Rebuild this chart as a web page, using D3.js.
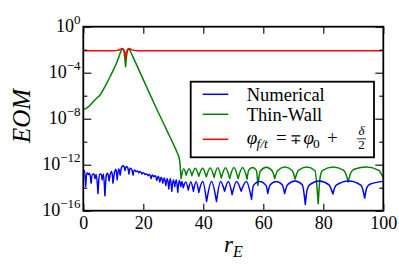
<!DOCTYPE html>
<html><head><meta charset="utf-8">
<script src="https://cdn.jsdelivr.net/npm/d3@7"></script>
<style>body{margin:0;background:#fff}svg{display:block}</style>
</head><body>
<svg id="c" width="399" height="268"></svg>
<script>
// ---- data (r_E, log10 EOM) ----
const xTickValues = [0, 20, 40, 60, 80, 100];
const yMajorExp = [0, -4, -8, -12, -16];
const yMinorExp = [-2, -6, -10, -14];
const legendNames = ["Numerical", "Thin-Wall", "phi"];

const numericalR = [0,0.4,0.8,1.2,1.7,2.1,2.6,3.0,3.5,3.9,4.3,4.9,5.4,5.9,6.3,6.7,7.2,7.7,8.1,8.6,9.0,9.5,9.9,10.4,10.9,11.3,11.8,12.3,12.8,13.4,13.9,14.3,14.8,15.2,15.6,16.1,16.6,17.0,17.6,18.0,18.5,19.0,19.5,20.0,20.6,21.1,21.6,22.1,22.6,23.0,23.5,24.0,24.5,25.0,25.5,26.0,26.5,27.0,27.5,28.0,28.5,29.0,29.5,30.0,30.5,31.0,31.5,32.0,32.5,32.9,
  33.3,34.15,35.0,35.85,36.7,37.6,38.5,39.8,41.1,42.75,44.4,45.75,47.1,48.35,49.6,51.1,52.6,54.35,56.1,56.7,58.8,60.9,61.5,62.3,64.3,66.3,67.1,68.1,70.55,73.0,74.0,74.6,75.4,78.6,81.9,82.6,83.2,84.2,88.5,92.6,93.8,94.5,95.5,100];
const numericalLog = [-12.6,-12.5,-13.9,-12.7,-12.85,-12.75,-13.6,-12.85,-12.8,-13.2,-12.85,-14.5,-12.85,-12.8,-13.3,-12.8,-14.7,-12.9,-12.75,-13.4,-12.8,-12.6,-13.6,-12.7,-12.4,-13.3,-12.35,-12.9,-12.2,-12.1,-12.5,-12.15,-12.25,-12.8,-12.3,-12.4,-12.9,-12.45,-12.6,-12.55,-12.7,-12.6,-12.8,-12.7,-12.85,-12.8,-12.95,-12.85,-13.2,-12.9,-13.05,-12.95,-13.35,-13.0,-13.5,-13.1,-13.6,-13.15,-13.8,-13.2,-14.1,-13.2,-14.3,-13.3,-13.9,-13.3,-14.4,-13.35,-13.9,-13.45,
  -14.0,-13.5,-14.2,-13.5,-14.3,-13.48,-14.4,-13.47,-15.2,-13.45,-15.2,-13.45,-14.3,-13.45,-14.6,-13.45,-14.3,-13.45,-15.0,-13.8,-13.45,-13.8,-14.5,-13.75,-13.45,-13.75,-14.5,-13.75,-13.42,-13.75,-15.45,-14.2,-13.75,-13.42,-13.75,-14.1,-14.55,-13.8,-13.42,-13.8,-14.9,-14.0,-13.7,-13.45];

const thinWallR = [0,1,2,3.3,4.5,5.6,6.7,7.8,9,10,11,11.7,12.3,12.9,13.3,13.7,14.1,14.5,14.9,15.3,15.8,16.5,18,20,22,24,26,28,30,31.2,32.0,
  32.6,33.45,34.3,35.25,36.2,37.35,38.5,39.75,41.0,42.3,43.6,44.8,46.0,47.4,48.8,50.2,51.6,53.1,54.6,55.1,56.4,57.7,58.2,59.0,61.0,63.0,63.8,64.8,67.2,69.6,70.6,71.7,74.5,77.2,78.3,79.0,79.8,83.3,86.8,87.6,88.3,89.2,90.3,94.5,98.5,100];
const thinWallLog = [-7.18,-7.1,-6.9,-6.52,-6.2,-5.94,-5.45,-4.92,-4.3,-3.77,-3.2,-2.75,-2.3,-1.97,-2.0,-2.4,-3.48,-2.4,-2.0,-1.97,-2.2,-2.6,-3.45,-4.6,-5.75,-6.9,-8.0,-9.1,-10.2,-10.9,-11.44,
  -13.2,-12.35,-12.9,-12.35,-12.95,-12.3,-13.0,-12.3,-13.05,-12.28,-13.1,-12.27,-13.15,-12.26,-13.2,-12.25,-13.2,-12.25,-13.25,-12.5,-12.25,-12.5,-13.8,-12.55,-12.22,-12.55,-13.2,-12.5,-12.2,-12.5,-13.25,-12.5,-12.2,-12.5,-15.4,-13.0,-12.5,-12.2,-12.5,-12.85,-13.5,-12.7,-12.4,-12.2,-12.5,-13.15];

const phiR = [0,10,11.5,12.3,12.9,13.5,13.9,14.1,14.3,14.7,15.3,15.9,16.8,18,100];
const phiLog = [-2.1,-2.1,-2.06,-1.97,-1.9,-2.0,-2.35,-2.8,-2.35,-2.0,-1.9,-1.97,-2.06,-2.1,-2.1];

const colors = ["#0000ff", "#008000", "#ff0000"];

// ---- layout ----
const L = 83.3, R = 383.3, T = 26.7, B = 210.7;
const FONT = "Liberation Serif";
const svg = d3.select("#c");
const x = d3.scaleLinear().domain([0, 100]).range([L, R]);
const y = d3.scaleLog().domain([1e-16, 1]).range([B, T]);

svg.append("defs").append("clipPath").attr("id", "clip")
  .append("rect").attr("x", L).attr("y", T).attr("width", R - L).attr("height", B - T);

function toPts(rs, ls) { return rs.map((r, i) => [r, Math.pow(10, ls[i])]); }
const line = d3.line().x(d => x(d[0])).y(d => y(d[1])).curve(d3.curveMonotoneX);
function cuspPath(pts) {
  const pieces = []; let s = 0;
  for (let i = 1; i < pts.length - 1; i++) {
    if (pts[i][1] < pts[i-1][1] && pts[i][1] < pts[i+1][1]) { pieces.push(pts.slice(s, i + 1)); s = i; }
  }
  pieces.push(pts.slice(s));
  return pieces.map(p => line(p)).join("");
}
const series = [toPts(numericalR, numericalLog), toPts(thinWallR, thinWallLog), toPts(phiR, phiLog)];
const gLines = svg.append("g").attr("clip-path", "url(#clip)");
[1, 0, 2].forEach(i => {
  gLines.append("path").attr("d", cuspPath(series[i])).attr("fill", "none")
    .attr("stroke", colors[i]).attr("stroke-width", 1.5)
    .attr("stroke-linejoin", "round").attr("stroke-linecap", "round");
});

function styleAxis(g) { g.select(".domain").remove(); g.selectAll("line").attr("stroke", "#000").attr("stroke-width", 1.1); }
svg.append("g").attr("transform", `translate(0,${B})`)
  .call(d3.axisBottom(x).tickValues(xTickValues).tickSizeInner(-7).tickSizeOuter(0).tickPadding(5.5))
  .call(styleAxis)
  .selectAll("text").style("font-family", FONT).attr("font-size", 18).attr("fill", "#000");
svg.append("g").attr("transform", `translate(0,${T})`)
  .call(d3.axisTop(x).tickValues(xTickValues).tickSizeInner(-7).tickSizeOuter(0).tickFormat(""))
  .call(styleAxis);
const yMaj = yMajorExp.map(e => Math.pow(10, e)), yMin = yMinorExp.map(e => Math.pow(10, e));
[[d3.axisLeft, L], [d3.axisRight, R]].forEach(([ax, pos]) => {
  svg.append("g").attr("transform", `translate(${pos},0)`)
    .call(ax(y).tickValues(yMaj).tickSizeInner(-8).tickSizeOuter(0).tickFormat("")).call(styleAxis);
  svg.append("g").attr("transform", `translate(${pos},0)`)
    .call(ax(y).tickValues(yMin).tickSizeInner(-4).tickSizeOuter(0).tickFormat("")).call(styleAxis);
});
yMajorExp.forEach(e => {
  const t = svg.append("text").attr("x", 80.5).attr("y", y(Math.pow(10, e)) + 5.5)
    .attr("text-anchor", "end").style("font-family", FONT).attr("font-size", 18).attr("fill", "#000");
  t.append("tspan").text("10");
  t.append("tspan").attr("dy", -8).attr("font-size", 13).text(e === 0 ? "0" : "\u2212" + (-e));
});

svg.append("rect").attr("x", L).attr("y", T).attr("width", R - L).attr("height", B - T)
  .attr("fill", "none").attr("stroke", "#000").attr("stroke-width", 1.8);

svg.append("text").attr("transform", `translate(30,116) rotate(-90)`).attr("text-anchor", "middle")
  .style("font-family", FONT).attr("font-style", "italic").attr("font-size", 25).attr("fill", "#000").text("EOM");
const xl = svg.append("text").attr("x", 224).attr("y", 252).style("font-family", FONT)
  .attr("font-style", "italic").attr("font-size", 23).attr("fill", "#000");
xl.append("tspan").text("r");
xl.append("tspan").attr("dy", 5).attr("font-size", 16).text("E");

const lg = svg.append("g");
lg.append("rect").attr("x", 190.7).attr("y", 81.7).attr("width", 183.3).attr("height", 75.6)
  .attr("fill", "#fff").attr("stroke", "#000").attr("stroke-width", 1.8);
const rowY = [94.3, 114.3, 139.3];
rowY.forEach((ry, i) => {
  lg.append("line").attr("x1", 202.7).attr("x2", 228.3).attr("y1", ry).attr("y2", ry)
    .attr("stroke", colors[i]).attr("stroke-width", 1.5);
});
[0, 1].forEach(i => {
  lg.append("text").attr("x", 246.7).attr("y", rowY[i] + 6.3).style("font-family", FONT)
    .attr("font-size", 18.5).attr("fill", "#000").text(legendNames[i]);
});
// phi_{f/t} = ∓ phi_0 + delta/2
const base = rowY[2] + 5;
function piece(px, txt, size, italic, dy) {
  lg.append("text").attr("x", px).attr("y", base + (dy || 0)).style("font-family", FONT)
    .attr("font-size", size).attr("font-style", italic ? "italic" : "normal").attr("fill", "#000").text(txt);
}
piece(246.7, "\u03c6", 19, true);
piece(256.5, "f/t", 13.5, true, 4);
piece(276, "=", 19, false);
piece(289.5, "\u2213", 14, false);
piece(303.5, "\u03c6", 19, true);
piece(313, "0", 13.5, false, 4);
piece(327, "+", 19, false);
lg.append("text").attr("x", 361.5).attr("y", rowY[2] - 4).attr("text-anchor", "middle")
  .style("font-family", FONT).attr("font-style", "italic").attr("font-size", 13).attr("fill", "#000").text("\u03b4");
lg.append("line").attr("x1", 357).attr("x2", 366).attr("y1", rowY[2] - 0.5).attr("y2", rowY[2] - 0.5)
  .attr("stroke", "#000").attr("stroke-width", 0.8);
lg.append("text").attr("x", 361.5).attr("y", rowY[2] + 9.5).attr("text-anchor", "middle")
  .style("font-family", FONT).attr("font-size", 13).attr("fill", "#000").text("2");
</script>
</body></html>
